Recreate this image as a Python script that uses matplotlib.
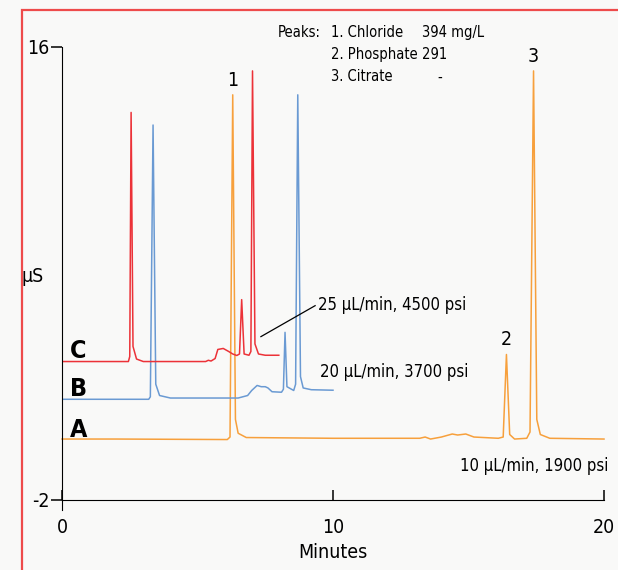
import matplotlib
matplotlib.use("Agg")
import matplotlib.pyplot as plt
from matplotlib import font_manager
from matplotlib.patches import Rectangle

# look for a condensed face (the original uses a narrow grotesque)
narrow = [f for f in font_manager.fontManager.ttflist
          if "Narrow" in f.name or "Condensed" in f.name
          or str(f.stretch) in ("condensed", "semi-condensed", "extra-condensed")]
if narrow:
    FONT, STRETCH = narrow[0].name, narrow[0].stretch
else:
    FONT, STRETCH = "Liberation Sans", "normal"
plt.rcParams["font.family"] = [FONT, "DejaVu Sans"]
plt.rcParams["font.stretch"] = STRETCH
plt.rcParams["axes.unicode_minus"] = False

# trace A: 10 uL/min, 1900 psi (orange)
t_a = [0.0, 2.0, 6.1, 6.2, 6.3, 6.4, 6.5, 6.8, 10.0, 13.2, 13.4, 13.6, 14.0, 14.4, 14.6,
       14.9, 15.2, 16.1, 16.28, 16.4, 16.52, 16.7, 17.15, 17.27, 17.4, 17.52, 17.65, 18.0, 20.0]
s_a = [0.42, 0.42, 0.40, 0.5, 14.1, 1.2, 0.65, 0.48, 0.45, 0.45, 0.5, 0.42, 0.5, 0.62, 0.58,
       0.62, 0.5, 0.45, 0.5, 3.78, 0.6, 0.42, 0.45, 0.7, 15.05, 1.2, 0.6, 0.45, 0.42]

# trace B: 20 uL/min, 3700 psi (blue)
t_b = [0.0, 3.2, 3.26, 3.36, 3.46, 3.6, 4.0, 6.5, 6.85, 7.0, 7.2, 7.35, 7.5, 7.6, 7.75,
       8.1, 8.17, 8.23, 8.3, 8.55, 8.62, 8.7, 8.8, 8.9, 9.2, 10.0]
s_b = [2.0, 2.0, 2.1, 12.9, 2.6, 2.15, 2.05, 2.05, 2.15, 2.35, 2.55, 2.5, 2.5, 2.45, 2.3,
       2.28, 2.4, 4.66, 2.5, 2.35, 2.6, 14.1, 2.9, 2.45, 2.38, 2.36]

# trace C: 25 uL/min, 4500 psi (red)
t_c = [0.0, 2.45, 2.5, 2.55, 2.62, 2.75, 3.0, 5.3, 5.4, 5.5, 5.65, 5.75, 5.95, 6.15, 6.3,
       6.45, 6.55, 6.63, 6.72, 6.9, 6.97, 7.03, 7.12, 7.25, 7.5, 8.0]
s_c = [3.5, 3.5, 3.7, 13.4, 4.1, 3.6, 3.5, 3.5, 3.55, 3.52, 3.62, 3.98, 4.02, 3.9, 3.8,
       3.74, 3.8, 5.96, 3.8, 3.75, 3.9, 15.05, 4.2, 3.8, 3.75, 3.75]

peak_ids = ["1", "2", "3"]
peak_pos = [(6.3, 14.1), (16.4, 3.78), (17.4, 15.05)]
peak_names = ["1. Chloride", "2. Phosphate", "3. Citrate"]
peak_conc = ["394 mg/L", "291", "-"]

fig = plt.figure(figsize=(6.18, 5.70), dpi=100)
fig.patch.set_facecolor("#f9f9f8")
fig.patches.append(Rectangle((22 / 618, -0.1), 1.2, 1.1 - 10 / 570, transform=fig.transFigure,
                             fill=False, edgecolor="#ee4b4b", lw=1.6))

ax = fig.add_axes([62 / 618, 1 - 510 / 570, 542 / 618, 463 / 570])
ax.set_facecolor("none")
ax.plot(t_a, s_a, color="#f7a03c", lw=1.1, clip_on=False)
ax.plot(t_b, s_b, color="#6a9ad3", lw=1.1)
ax.plot(t_c, s_c, color="#ec3238", lw=1.1)

ax.set_xlim(0, 20)
ax.set_ylim(-2.4, 16)
for s in ["top", "right"]:
    ax.spines[s].set_visible(False)
ax.spines["bottom"].set_position(("data", -2))
ax.spines["bottom"].set_bounds(0, 20)
ax.spines["left"].set_bounds(-2.4, 16)
ax.set_xticks([0, 10, 20])
ax.set_yticks([-2, 16])
ax.tick_params(axis="x", direction="in", length=7, width=1.1, labelsize=14, pad=13)
ax.tick_params(axis="y", direction="out", length=8, width=1.1, labelsize=14, pad=1)
ax.set_xlabel("Minutes", fontsize=14, labelpad=4)
ax.text(-1.1, 6.87, "\u00b5S", fontsize=14, ha="center", va="center")

for lab, (x, y) in zip(peak_ids, peak_pos):
    ax.text(x, y + 0.2, lab, fontsize=14, ha="center", va="bottom")

for lab, y in zip(["C", "B", "A"], [3.66, 2.15, 0.52]):
    ax.text(0.28, y, lab, fontsize=18, fontweight="bold", ha="left", va="baseline")

ax.text(9.45, 5.76, "25 \u00b5L/min, 4500 psi", fontsize=12, ha="left", va="center")
ax.plot([7.34, 9.34], [4.49, 5.72], color="black", lw=0.9)
ax.text(9.52, 3.1, "20 \u00b5L/min, 3700 psi", fontsize=12, ha="left", va="center")
ax.text(20.15, -0.67, "10 \u00b5L/min, 1900 psi", fontsize=12, ha="right", va="center",
        clip_on=False)

ax.text(9.56, 16.56, "Peaks:", fontsize=10.5, ha="right", va="center", clip_on=False)
for i, (n, c) in enumerate(zip(peak_names, peak_conc)):
    yy = 16.56 - 0.875 * i
    ax.text(9.93, yy, n, fontsize=10.5, ha="left", va="center", clip_on=False)
    if c == "-":
        ax.text(13.95, yy, c, fontsize=10.5, ha="center", va="center", clip_on=False)
    else:
        ax.text(13.3, yy, c, fontsize=10.5, ha="left", va="center", clip_on=False)

fig.savefig("out.png", dpi=100, facecolor=fig.get_facecolor())
